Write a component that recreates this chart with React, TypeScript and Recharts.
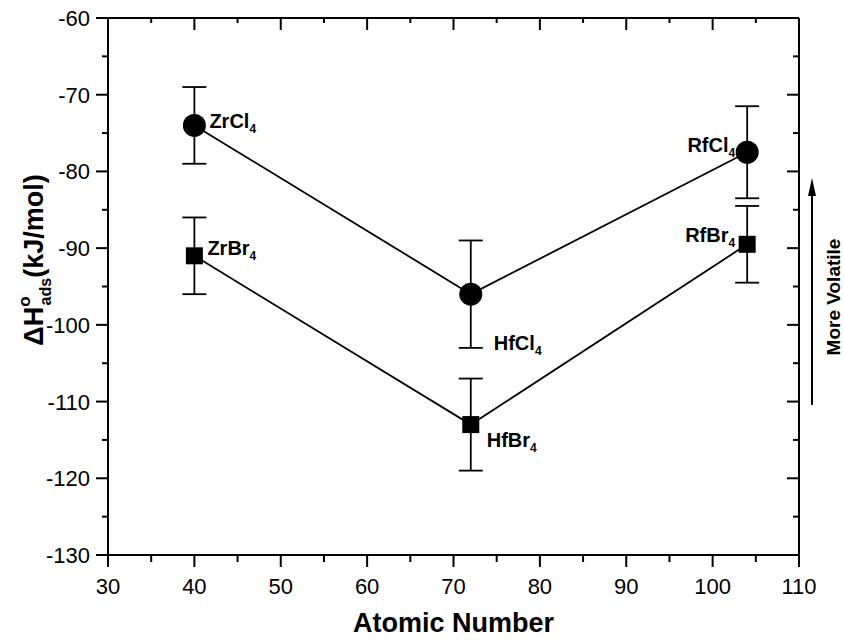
import React from "react";
import {
  ComposedChart,
  Line,
  XAxis,
  YAxis,
  ErrorBar,
  LabelList,
  ReferenceLine,
} from "recharts";

const atomicNumbers = [40, 72, 104];
const chlorideValues = [-74, -96, -77.5];
const chlorideErrors = [5, 7, 6];
const bromideValues = [-91, -113, -89.5];
const bromideErrors = [5, 6, 5];
const chlorideNames = ["ZrCl", "HfCl", "RfCl"];
const bromideNames = ["ZrBr", "HfBr", "RfBr"];

const xTicks = [30, 35, 40, 45, 50, 55, 60, 65, 70, 75, 80, 85, 90, 95, 100, 105, 110];
const yTicks = [-130, -125, -120, -115, -110, -105, -100, -95, -90, -85, -80, -75, -70, -65, -60];

const data = atomicNumbers.map((z, i) => ({
  z,
  cl: chlorideValues[i],
  clErr: chlorideErrors[i],
  br: bromideValues[i],
  brErr: bromideErrors[i],
}));

// label placement next to each point: [dx, dy, anchor]
const clOffsets: [number, number, string][] = [
  [15, 3, "start"],
  [23, 56, "start"],
  [-12, 0, "end"],
];
const brOffsets: [number, number, string][] = [
  [13, -1, "start"],
  [16, 22, "start"],
  [-12, -2, "end"],
];

const W = 844;
const H = 640;
const MARGIN = { top: 18, right: 45, bottom: 0, left: 0 };
const PLOT_TOP = MARGIN.top;
const PLOT_RIGHT = W - MARGIN.right;

const FONT = "'Liberation Sans', Arial, Helvetica, sans-serif";

const isMajor = (v: number) => v % 10 === 0;

// left axis ticks point out, mirrored ticks on the right frame point in
const LeftTick = (props: any) => {
  const { x, y, payload } = props;
  const major = isMajor(payload.value);
  return (
    <g>
      <line x1={x} y1={y} x2={x - (major ? 12 : 6)} y2={y} stroke="#000" strokeWidth={2} />
      <line x1={PLOT_RIGHT} y1={y} x2={PLOT_RIGHT - (major ? 12 : 6)} y2={y} stroke="#000" strokeWidth={2} />
      {payload.value === -60 && (
        <line x1={x} y1={y} x2={PLOT_RIGHT} y2={y} stroke="#000" strokeWidth={2} />
      )}
      {major && (
        <text x={x - 18} y={y} dy={8} textAnchor="end" fontSize={22} fontFamily={FONT} fill="#000">
          {payload.value}
        </text>
      )}
    </g>
  );
};

const BottomTick = (props: any) => {
  const { x, y, payload } = props;
  const major = isMajor(payload.value);
  return (
    <g>
      <line x1={x} y1={y} x2={x} y2={y + (major ? 12 : 7)} stroke="#000" strokeWidth={2} />
      <line x1={x} y1={PLOT_TOP} x2={x} y2={PLOT_TOP + (major ? 12 : 5)} stroke="#000" strokeWidth={2} />
      {major && (
        <text x={x} y={y + 39} textAnchor="middle" fontSize={22} fontFamily={FONT} fill="#000">
          {payload.value}
        </text>
      )}
    </g>
  );
};

const CircleDot = (props: any) => {
  const { cx, cy } = props;
  if (cx == null || cy == null) return null;
  return <circle cx={cx} cy={cy} r={11.5} fill="#000" />;
};

const SquareDot = (props: any) => {
  const { cx, cy } = props;
  if (cx == null || cy == null) return null;
  return <rect x={cx - 8.5} y={cy - 8.5} width={17} height={17} fill="#000" />;
};

const makeLabel = (names: string[], offsets: [number, number, string][]) => (props: any) => {
  const { x, y, index } = props;
  const [dx, dy, anchor] = offsets[index];
  return (
    <text
      x={x + dx}
      y={y + dy}
      textAnchor={anchor}
      fontSize={20}
      fontWeight="bold"
      fontFamily={FONT}
      fill="#000"
    >
      {names[index]}
      <tspan fontSize={12} dy={5}>4</tspan>
    </text>
  );
};

const XTitle = (props: any) => {
  const { viewBox } = props;
  return (
    <text
      x={viewBox.x + viewBox.width / 2}
      y={632}
      textAnchor="middle"
      fontSize={27}
      fontWeight="bold"
      fontFamily={FONT}
      fill="#000"
    >
      Atomic Number
    </text>
  );
};

const YTitle = () => {
  const cx = 43;
  const cy = 260;
  return (
    <text
      x={cx}
      y={cy}
      transform={`rotate(-90, ${cx}, ${cy})`}
      textAnchor="middle"
      fontSize={27}
      fontWeight="bold"
      fontFamily={FONT}
      fill="#000"
    >
      ΔH
      <tspan fontSize={17} dy={-13}>o</tspan>
      <tspan fontSize={16} dx={-9} dy={21}>ads</tspan>
      <tspan dy={-8}>(kJ/mol)</tspan>
    </text>
  );
};

const VolatileNote = () => {
  const ax = PLOT_RIGHT + 13;
  const tx = PLOT_RIGHT + 41;
  const ty = 297;
  return (
    <g>
      <line x1={ax} y1={405} x2={ax} y2={192} stroke="#000" strokeWidth={2} />
      <polygon points={`${ax},178 ${ax - 4},196 ${ax + 4},196`} fill="#000" />
      <text
        x={tx}
        y={ty}
        transform={`rotate(-90, ${tx}, ${ty})`}
        textAnchor="middle"
        fontSize={19}
        fontWeight="bold"
        fontFamily={FONT}
        fill="#000"
      >
        More Volatile
      </text>
    </g>
  );
};

export default function App() {
  return (
    <div style={{ position: "absolute", left: 0, top: 0, background: "#fff" }}>
      <ComposedChart width={W} height={H} data={data} margin={MARGIN}>
        <XAxis
          dataKey="z"
          type="number"
          domain={[30, 110]}
          ticks={xTicks}
          interval={0}
          height={85}
          tickSize={0}
          tickMargin={0}
          tickLine={false}
          axisLine={{ stroke: "#000", strokeWidth: 2 }}
          tick={<BottomTick />}
          label={<XTitle />}
        />
        <YAxis
          type="number"
          domain={[-130, -60]}
          ticks={yTicks}
          interval={0}
          width={108}
          tickSize={0}
          tickMargin={0}
          tickLine={false}
          axisLine={{ stroke: "#000", strokeWidth: 2 }}
          tick={<LeftTick />}
          label={<YTitle />}
        />
        <ReferenceLine y={-60} stroke="#000" strokeWidth={2} />
        <ReferenceLine x={110} stroke="#000" strokeWidth={2} label={<VolatileNote />} />
        <Line
          dataKey="cl"
          type="linear"
          stroke="#000"
          strokeWidth={1.8}
          dot={<CircleDot />}
          activeDot={false}
          isAnimationActive={false}
        >
          <ErrorBar dataKey="clErr" direction="y" width={12} stroke="#000" strokeWidth={1.8} isAnimationActive={false} />
          <LabelList dataKey="cl" content={makeLabel(chlorideNames, clOffsets)} />
        </Line>
        <Line
          dataKey="br"
          type="linear"
          stroke="#000"
          strokeWidth={1.8}
          dot={<SquareDot />}
          activeDot={false}
          isAnimationActive={false}
        >
          <ErrorBar dataKey="brErr" direction="y" width={12} stroke="#000" strokeWidth={1.8} isAnimationActive={false} />
          <LabelList dataKey="br" content={makeLabel(bromideNames, brOffsets)} />
        </Line>
      </ComposedChart>
    </div>
  );
}
